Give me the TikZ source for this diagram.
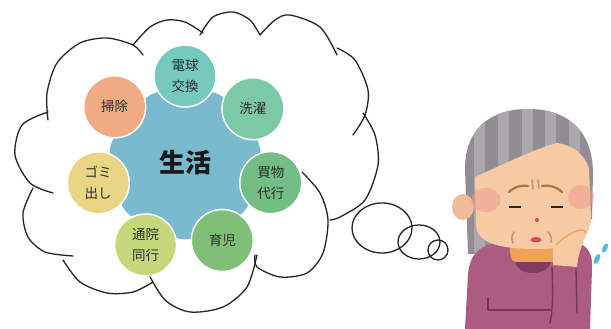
\documentclass[tikz,border=0pt]{standalone}
\usepackage{fontspec}
\newfontfamily\jp{Noto Sans CJK JP}
\usetikzlibrary{calc,shapes.geometric}
\definecolor{ink}{RGB}{36,36,36}
\definecolor{labelink}{RGB}{40,46,46}
\definecolor{hubblue}{RGB}{122,186,206}
\definecolor{bulbteal}{RGB}{118,201,190}
\definecolor{washgreen}{RGB}{124,201,166}
\definecolor{shopgreen}{RGB}{114,190,132}
\definecolor{childgreen}{RGB}{128,192,118}
\definecolor{clinicgreen}{RGB}{196,216,122}
\definecolor{trashyellow}{RGB}{232,214,132}
\definecolor{sweeporange}{RGB}{240,170,132}
\definecolor{hairdark}{RGB}{146,141,147}
\definecolor{hairlight}{RGB}{172,167,173}
\definecolor{skin}{RGB}{246,202,162}
\definecolor{earskin}{RGB}{240,188,152}
\definecolor{blush}{RGB}{240,150,145}
\definecolor{brow}{RGB}{168,118,62}
\definecolor{wrinkle}{RGB}{196,150,108}
\definecolor{lip}{RGB}{222,72,92}
\definecolor{sweater}{RGB}{172,92,128}
\definecolor{sweaterline}{RGB}{118,52,88}
\definecolor{neckdark}{RGB}{128,60,92}
\definecolor{collar}{RGB}{241,162,88}
\definecolor{sweat}{RGB}{88,184,214}

\begin{document}
\begin{tikzpicture}[x=1pt,y=1pt,
  cloudline/.style={line width=1.3pt,ink,line cap=round},
  bubble/.style={circle,minimum size=62,inner sep=0pt,draw=white,line width=1.5pt,
    text=labelink,align=center,font=\jp\fontsize{13.5}{21}\selectfont},
  hubshape/.style={regular polygon,regular polygon sides=7,minimum size=158,
    shape border rotate=25.7,rounded corners=10pt,fill=hubblue,inner sep=0pt,
    text=black!90,font=\jp\bfseries\fontsize{26}{28}\selectfont},
  facestroke/.style={line width=1.6pt,line cap=round}]
\useasboundingbox (0,0) rectangle (611,329);
\fill[white] (0,0) rectangle (611,329);

% thought cloud, one bump at a time
\draw[cloudline] plot[smooth] coordinates {(48,209) (47,236) (57,266) (80,286) (107,291) (133,284) (143,274)};
\draw[cloudline] plot[smooth] coordinates {(133,284) (150,302) (167,309) (185,307) (203,296)};
\draw[cloudline] plot[smooth] coordinates {(200,294) (213,312) (233,317) (250,309) (260,294)};
\draw[cloudline] plot[smooth] coordinates {(260,294) (275,309) (290,314) (320,302) (337,274)};
\draw[cloudline] plot[smooth] coordinates {(337,281) (355,269) (368,239) (365,214) (353,194)};
\draw[cloudline] plot[smooth] coordinates {(363,216) (375,194) (378,164) (365,129) (340,112) (330,109)};
\draw[cloudline] plot[smooth] coordinates {(302,157) (320,136) (328,109) (323,76) (307,56) (280,52) (257,62) (255,74)};
\draw[cloudline] plot[smooth] coordinates {(257,74) (247,42) (223,22) (190,17) (165,29) (148,56)};
\draw[cloudline] plot[smooth] coordinates {(153,47) (133,37) (107,36) (80,47) (63,69)};
\draw[cloudline] plot[smooth] coordinates {(73,73) (45,77) (28,92) (23,116) (33,141)};
\draw[cloudline] plot[smooth] coordinates {(53,136) (30,146) (15,174) (22,204) (48,217)};

% little trail bubbles
\draw[cloudline] (382,101) ellipse (30 and 25);
\draw[cloudline] (419,87) ellipse (21 and 17);
\draw[cloudline] (438,79) circle (10);

% life and its chores
\coordinate (hubc) at (185,166);
\node[hubshape] (life) at (hubc) {生活};
\node[bubble,fill=bulbteal] (bulb) at ($(hubc)+(90:87)$) {電球\\交換};
\node[bubble,fill=washgreen] (laundry) at ($(hubc)+(38.6:87)$) {洗濯};
\node[bubble,fill=shopgreen] (shopping) at ($(hubc)+(-12.9:88)$) {買物\\代行};
\node[bubble,fill=childgreen] (childcare) at ($(hubc)+(-64.3:86)$) {育児};
\node[bubble,fill=clinicgreen] (clinic) at ($(hubc)+(-115.7:91)$) {通院\\同行};
\node[bubble,fill=trashyellow] (trash) at ($(hubc)+(-167.1:89)$) {ゴミ\\出し};
\node[bubble,fill=sweeporange] (sweeping) at ($(hubc)+(141.4:90)$) {掃除};

% grandma: hair behind everything
\begin{scope}
\clip (468,75) -- (465,160) .. controls (465,200) and (490,220) .. (528,220)
  .. controls (568,220) and (593,198) .. (593,155) -- (592,110) -- (480,75) -- cycle;
\fill[hairdark] (440,60) rectangle (611,230);
\foreach \sx in {474,498,522,545,569}
  \fill[hairlight] (\sx,60) rectangle (\sx+11,230);
\end{scope}

% sweater
\fill[sweater] (465,0) -- (468,55) .. controls (470,75) and (480,85) .. (500,86)
  -- (575,86) .. controls (588,85) and (593,74) .. (592,60) -- (590,0) -- cycle;
\fill[neckdark] (515,68) .. controls (517,52) and (549,52) .. (551,68) -- cycle;
\fill[collar, rounded corners=4pt] (509,83) -- (560,83) -- (557,67) -- (512,67) -- cycle;

% ear and face
\fill[earskin] (463,122) ellipse (11 and 13);
\fill[skin] (475,152) .. controls (510,168) and (540,182) .. (557,186)
  .. controls (572,184) and (585,175) .. (589,160) -- (591,112)
  .. controls (591,88) and (570,80) .. (540,80)
  .. controls (500,80) and (476,85) .. (476,105) -- cycle;
\fill[blush,opacity=0.5] (486,129) ellipse (15 and 12);
\fill[blush,opacity=0.5] (581,132) ellipse (13 and 12);

% brows, eyes, nose, mouth and wrinkles
\draw[facestroke,brow,line width=2.2pt] (509,137) to[bend left=25] (528,143);
\draw[facestroke,brow,line width=2.2pt] (542,143) to[bend left=25] (562,137);
\draw[facestroke,wrinkle] (532,149) -- (533,140);
\draw[facestroke,wrinkle] (538,149) -- (539,141);
\draw[line width=2.8pt,black!85] (509,122) -- (521,122);
\draw[line width=2.8pt,black!85] (551,122) -- (563,122);
\fill[lip] (537,109) circle (2);
\fill[lip] (530,89) .. controls (532,93) and (540,93) .. (542,89)
  .. controls (540,86) and (532,86) .. (530,89) -- cycle;
\draw[facestroke,wrinkle] (514,97) to[bend right=30] (513,86);
\draw[facestroke,wrinkle] (548,97) to[bend left=30] (551,87);

% hand on the cheek and the arm
\fill[skin] (553,64) -- (553,83) .. controls (560,89) and (567,93) .. (574,97)
  .. controls (580,100) and (588,101) .. (586,94)
  .. controls (584,88) and (580,80) .. (578,70) -- (577,62) -- cycle;
\draw[facestroke,collar,line width=1.3pt] (556,84) .. controls (562,90) and (568,94) .. (574,97)
  .. controls (580,100) and (587,100) .. (586,95);
\draw[sweaterline,line width=1.4pt,line cap=round] (552,62) .. controls (553,40) and (553,20) .. (550,6);
\draw[sweaterline,line width=1.4pt,line cap=round] (576,60) -- (577,16);
\draw[sweaterline,line width=1.4pt,line cap=round,line join=round] (488,31) -- (488,19) -- (551,19);

% sweat drops
\fill[sweat,rotate around={-25:(597,70)}] (597,70) ellipse (2.6 and 5.5);
\fill[sweat,rotate around={-25:(605,81)}] (605,81) ellipse (2.4 and 5);
\end{tikzpicture}
\end{document}
